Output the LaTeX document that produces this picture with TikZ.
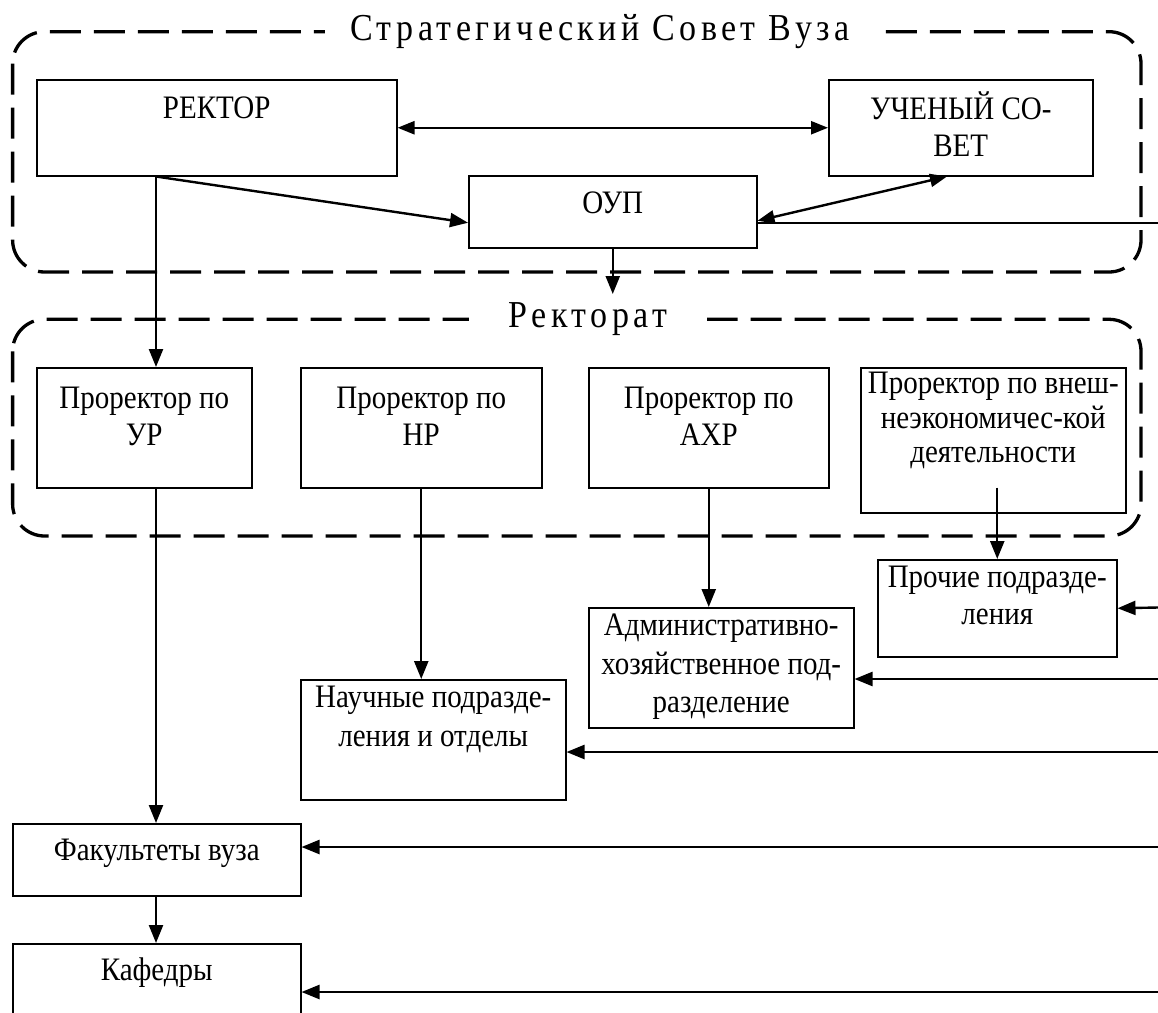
\documentclass[tikz,border=0pt]{standalone}
\usepackage{fontspec}
\usepackage{graphicx}
\setmainfont{Liberation Serif}
\usetikzlibrary{arrows.meta,calc}
% box text: width, height, first-baseline offset (all in px), text; glyphs stretched vertically like the reference
\newcommand{\bxt}[4]{\scalebox{1}[1.13]{\parbox[c][\dimexpr#2pt*100/113\relax][t]{#1pt}{\lineskiplimit=-100pt\centering\vspace*{\dimexpr#3pt*100/113-\ht\strutbox\relax}\strut#4\par}}}
\newcommand{\ttltext}[1]{\scalebox{1}[1.12]{#1}}
\begin{document}
\begin{tikzpicture}[x=1pt,y=-1pt,
  box/.style={draw, line width=1.5pt, inner sep=0pt, anchor=north west, font=\fontsize{29}{32.7}\selectfont},
  conn/.style={line width=2.4pt, -{Triangle[length=18pt,width=14pt]}},
  dbl/.style={line width=2.4pt, {Triangle[length=17pt,width=13pt]}-{Triangle[length=17pt,width=13pt]}},
  thin/.style={line width=1.6pt},
  grp/.style={line width=3.3pt, dash pattern=on 31pt off 13pt, rounded corners=32pt},
  ttl/.style={fill=white, inner ysep=1pt, font=\fontsize{34}{40}\selectfont\addfontfeature{LetterSpace=13}}]
\useasboundingbox (0,0) rectangle (1158,1012);
\fill[white] (0,0) rectangle (1158,1012);

% group frames
\draw[grp] (12.6,31.7) rectangle (1141,272);
\node[ttl, inner xsep=25pt] (t1) at (600,31.7) {\ttltext{Стратегический Совет Вуза}};
\draw[grp] (12.6,319.3) rectangle (1141,536);
\node[ttl, inner xsep=40pt] (t2) at (588,319.3) {\ttltext{Ректорат}};

% boxes
\node[box] (rektor) at (36,79) {\bxt{360}{96}{39}{РЕКТОР}};
\node[box] (uchen) at (828,79) {\bxt{264}{96}{38}{УЧЕНЫЙ СО-\\ВЕТ}};
\node[box] (oup) at (468,175) {\bxt{288}{72}{38}{ОУП}};
\node[box] (ur) at (36,367) {\bxt{215}{120}{41}{Проректор по\\УР}};
\node[box] (nr) at (300,367) {\bxt{241}{120}{41}{Проректор по\\НР}};
\node[box] (axr) at (588,367) {\bxt{240}{120}{41}{Проректор по\\АХР}};
\node[box, font=\fontsize{29}{30.5}\selectfont] (vnesh) at (860,367) {\bxt{265}{145}{26}{Проректор по внеш-\\неэкономичес-кой\\деятельности}};
\node[box] (proch) at (877,559) {\bxt{239}{97}{28}{Прочие подразде-\\ления}};
\node[box, font=\fontsize{29}{34}\selectfont] (admin) at (588,607) {\bxt{265}{120}{28}{Административно-\\хозяйственное под-\\разделение}};
\node[box, font=\fontsize{29}{34.5}\selectfont] (nauch) at (300,679) {\bxt{265}{120}{28}{Научные подразде-\\ления и отделы}};
\node[box] (fak) at (12,823) {\bxt{288}{72}{37}{Факультеты вуза}};
\node[box] (kaf) at (12,943) {\bxt{288}{100}{37}{Кафедры}};

% free ends
\coordinate (oupdn) at (612,294);
\coordinate (e1) at (1158,223);
\coordinate (e2) at (1158,607.5);
\coordinate (e3) at (1158,679);
\coordinate (e4) at (1158,752);
\coordinate (e5) at (1158,847);
\coordinate (e6) at (1158,992);

% connectors
\path ([xshift=120pt]rektor.south west) coordinate (rk);
\draw[dbl] (rektor.east) -- (uchen.west);
\draw[conn] (rk) -- ([yshift=-11pt]oup.west);
\draw[conn] (rk) -- (rk |- ur.north);
\draw[dbl] ([yshift=-9pt]oup.east) -- ([xshift=119pt]uchen.south west);
\draw[thin] (e1) -- (e1 -| oup.east);
\draw[conn] (oup.south) -- (oup.south |- oupdn);
\draw[conn] (ur.south -| rk) -- (fak.north -| rk);
\draw[conn] (fak.south -| rk) -- (kaf.north -| rk);
\draw[conn] (nr.south) -- (nr.south |- nauch.north);
\draw[conn] (axr.south) -- (axr.south |- admin.north);
\path ([yshift=26pt]vnesh.south) coordinate (vs);
\draw[conn] (vs -| proch.north) -- (proch.north);
\draw[conn] (e2) -- (proch.east);
\draw[conn] (e3) -- (e3 -| admin.east);
\draw[conn] (e4) -- (e4 -| nauch.east);
\draw[conn] (e5) -- (e5 -| fak.east);
\draw[conn] (e6) -- (e6 -| kaf.east);
\end{tikzpicture}
\end{document}
